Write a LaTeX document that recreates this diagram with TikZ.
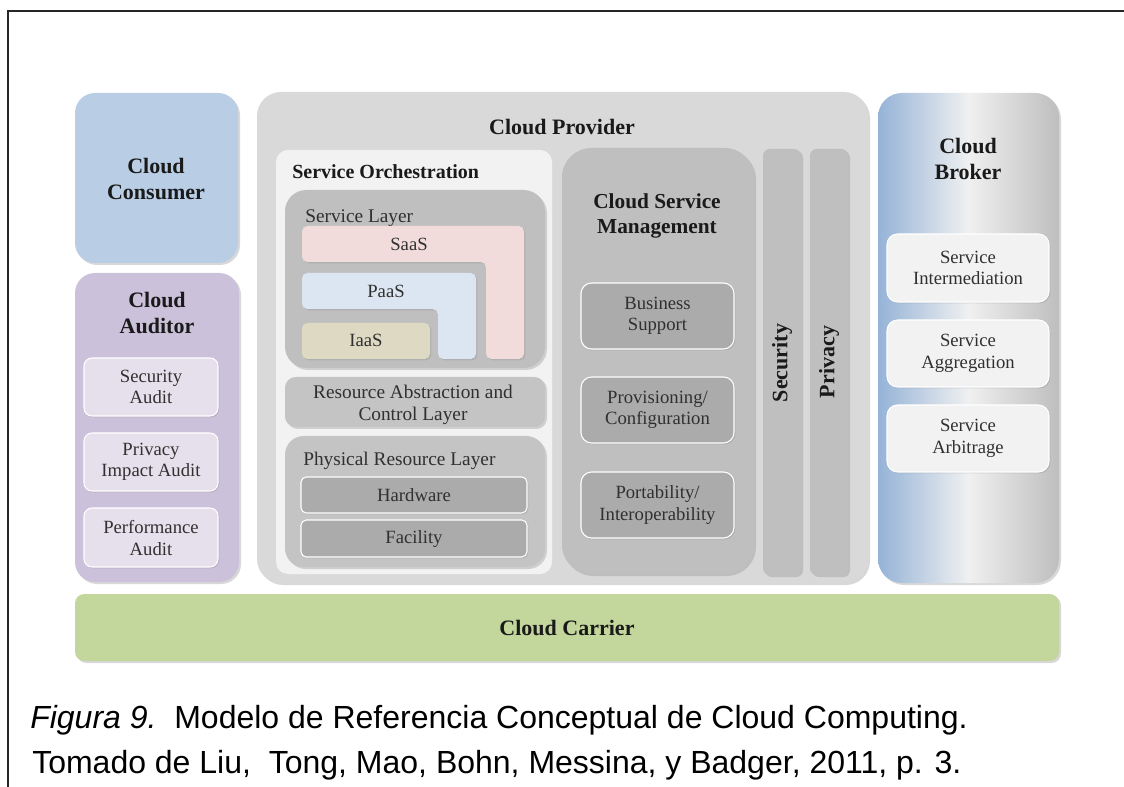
\documentclass[tikz,border=0pt]{standalone}
\usepackage{fontspec}
\setmainfont{Liberation Serif}
\newfontfamily\capfont{Liberation Sans}
\usetikzlibrary{shadows}
\definecolor{consumerc}{HTML}{B9CDE5}
\definecolor{auditorc}{HTML}{CCC1DA}
\definecolor{auditsubc}{HTML}{E6E0EC}
\definecolor{providerc}{HTML}{D9D9D9}
\definecolor{orchc}{HTML}{F2F2F2}
\definecolor{layerc}{HTML}{BFBFBF}
\definecolor{layertwoc}{HTML}{C4C4C4}
\definecolor{darkboxc}{HTML}{ABABAB}
\definecolor{saasc}{HTML}{F2DCDB}
\definecolor{paasc}{HTML}{DCE6F2}
\definecolor{iaasc}{HTML}{DDD9C3}
\definecolor{carrierc}{HTML}{C3D69B}
\definecolor{brokerblue}{HTML}{95B3D7}
\definecolor{brokermid}{HTML}{F0F0F0}
\definecolor{brokergrey}{HTML}{BEBEBE}
\definecolor{subwhitec}{HTML}{F2F2F2}
\definecolor{txtc}{HTML}{1A1A1A}
\definecolor{subtxtc}{HTML}{303030}
\tikzset{
  shad/.style={drop shadow={opacity=0.3, shadow xshift=1.5pt, shadow yshift=-1.5pt}},
  shadsmall/.style={drop shadow={opacity=0.25, shadow xshift=1pt, shadow yshift=-1pt}},
  head/.style={font=\fontsize{16.5}{19}\selectfont\bfseries, text=txtc, align=center, inner sep=0pt},
  orchtitle/.style={font=\fontsize{15}{18}\selectfont\bfseries, text=txtc, inner sep=0pt},
  lab/.style={font=\fontsize{14.5}{16}\selectfont, text=subtxtc, align=center, inner sep=0pt},
  sub/.style={font=\fontsize{14}{16}\selectfont, text=subtxtc, align=center, inner sep=0pt},
  vert/.style={font=\fontsize{16.5}{19}\selectfont\bfseries, text=txtc, rotate=90, inner sep=0pt},
  captext/.style={font=\capfont\fontsize{24}{28}\selectfont, text=black, inner sep=0pt},
  frameline/.style={line width=1pt, black!85},
  whitebox/.style={draw=white, line width=0.8pt, rounded corners=6pt},
}
\begin{document}
\begin{tikzpicture}[x=0.75pt,y=-0.75pt]
\useasboundingbox (0,0) rectangle (1124,787);
\fill[white] (0,0) rectangle (1124,787);
\draw[frameline] (8,787) -- (8,11) -- (1124,11);

% Cloud Consumer
\fill[consumerc, rounded corners=15pt, shad] (75,93) rectangle (238,263);
\node[head] (consumer) at (156,179) {Cloud\\Consumer};

% Cloud Auditor
\fill[auditorc, rounded corners=15pt, shad] (75,273) rectangle (239,582);
\node[head] (auditor) at (157,313) {Cloud\\Auditor};
\filldraw[fill=auditsubc, whitebox, shadsmall] (84,358) rectangle (218,416);
\node[sub] (secaudit) at (151,387) {Security\\Audit};
\filldraw[fill=auditsubc, whitebox, shadsmall] (84,433) rectangle (218,491);
\node[sub] (privaudit) at (151,462) {Privacy\\Impact Audit};
\filldraw[fill=auditsubc, whitebox, shadsmall] (84,508) rectangle (218,567);
\node[sub] (perfaudit) at (151,538) {Performance\\Audit};

% Cloud Provider
\fill[providerc, rounded corners=18pt, shad] (257,92) rectangle (868,583);
\node[head, anchor=base] (provider) at (562,135) {Cloud Provider};

% Service Orchestration
\fill[orchc, rounded corners=9pt] (276,150) rectangle (552,574);
\node[orchtitle, anchor=base west] (orch) at (292,179) {Service Orchestration};

% Service Layer
\fill[layerc, rounded corners=16pt, shad] (285,190) rectangle (545,368);
\node[lab, anchor=base west] (slayer) at (305,223) {Service Layer};
\fill[saasc, rounded corners=4pt, shadsmall] (302,226) -- (524,226) -- (524,359) -- (486,359) -- (486,262) -- (302,262) -- cycle;
\node[sub, anchor=base] (saas) at (409,251) {SaaS};
\fill[paasc, rounded corners=4pt, shadsmall] (302,273) -- (476,273) -- (476,359) -- (438,359) -- (438,309) -- (302,309) -- cycle;
\node[sub, anchor=base] (paas) at (386,298) {PaaS};
\fill[iaasc, rounded corners=4pt, shadsmall] (302,323) rectangle (430,359);
\node[sub, anchor=base] (iaas) at (366,347) {IaaS};

% Resource Abstraction and Control Layer
\fill[layertwoc, rounded corners=8pt, shad] (285,377) rectangle (545,427);
\node[lab] (resabs) at (413,405) {Resource Abstraction and\\Control Layer};

% Physical Resource Layer
\fill[layertwoc, rounded corners=14pt, shad] (285,436) rectangle (545,567);
\node[lab, anchor=base west] (phys) at (303,466) {Physical Resource Layer};
\filldraw[fill=darkboxc, whitebox, rounded corners=4pt, shadsmall] (301,477) rectangle (527,513);
\node[sub] (hardware) at (414,495) {Hardware};
\filldraw[fill=darkboxc, whitebox, rounded corners=4pt, shadsmall] (301,520) rectangle (527,557);
\node[sub] (facility) at (414,539) {Facility};

% Cloud Service Management
\fill[layerc, rounded corners=22pt, shad] (562,148) rectangle (754,574);
\node[head, font=\fontsize{16}{19}\selectfont\bfseries] (csm) at (657,216) {Cloud Service\\Management};
\filldraw[fill=darkboxc, whitebox, rounded corners=8pt, shadsmall] (581,283) rectangle (734,349);
\node[sub] (business) at (657.5,316) {Business\\Support};
\filldraw[fill=darkboxc, whitebox, rounded corners=8pt, shadsmall] (581,377) rectangle (734,443);
\node[sub] (prov) at (657.5,410) {Provisioning/\\Configuration};
\filldraw[fill=darkboxc, whitebox, rounded corners=8pt, shadsmall] (581,472) rectangle (734,538);
\node[sub] (port) at (657.5,505) {Portability/\\Interoperability};

% Security and Privacy
\fill[layerc, rounded corners=5pt, shad] (763,149) rectangle (801,575);
\node[vert] (security) at (782,363) {Security};
\fill[layerc, rounded corners=5pt, shad] (810,149) rectangle (848,575);
\node[vert] (privacy) at (829,362) {Privacy};

% Cloud Broker
\path[left color=brokerblue, right color=brokergrey, middle color=brokermid, rounded corners=18pt, shad] (878,93) rectangle (1059,583);
\node[head] (broker) at (968,159) {Cloud\\Broker};
\filldraw[fill=subwhitec, whitebox, rounded corners=8pt, shadsmall] (887,234) rectangle (1049,302);
\node[sub] (intermed) at (968,268) {Service\\Intermediation};
\filldraw[fill=subwhitec, whitebox, rounded corners=8pt, shadsmall] (887,320) rectangle (1049,387);
\node[sub] (aggreg) at (968,353.5) {Service\\Aggregation};
\filldraw[fill=subwhitec, whitebox, rounded corners=8pt, shadsmall] (887,405) rectangle (1049,472);
\node[sub] (arbit) at (968,438.5) {Service\\Arbitrage};

% Cloud Carrier
\fill[carrierc, rounded corners=7pt, shad] (75,594) rectangle (1059,661);
\node[head] (carrier) at (567,628) {Cloud Carrier};

% Caption
\node[captext, anchor=base west] (cap1) at (30,728) {\textit{Figura 9.}\ \ Modelo de Referencia Conceptual de Cloud Computing.};
\node[captext, anchor=base west] (cap2) at (32,773) {Tomado de Liu,\ \ Tong, Mao, Bohn, Messina, y Badger, 2011, p. 3.};
\end{tikzpicture}
\end{document}
